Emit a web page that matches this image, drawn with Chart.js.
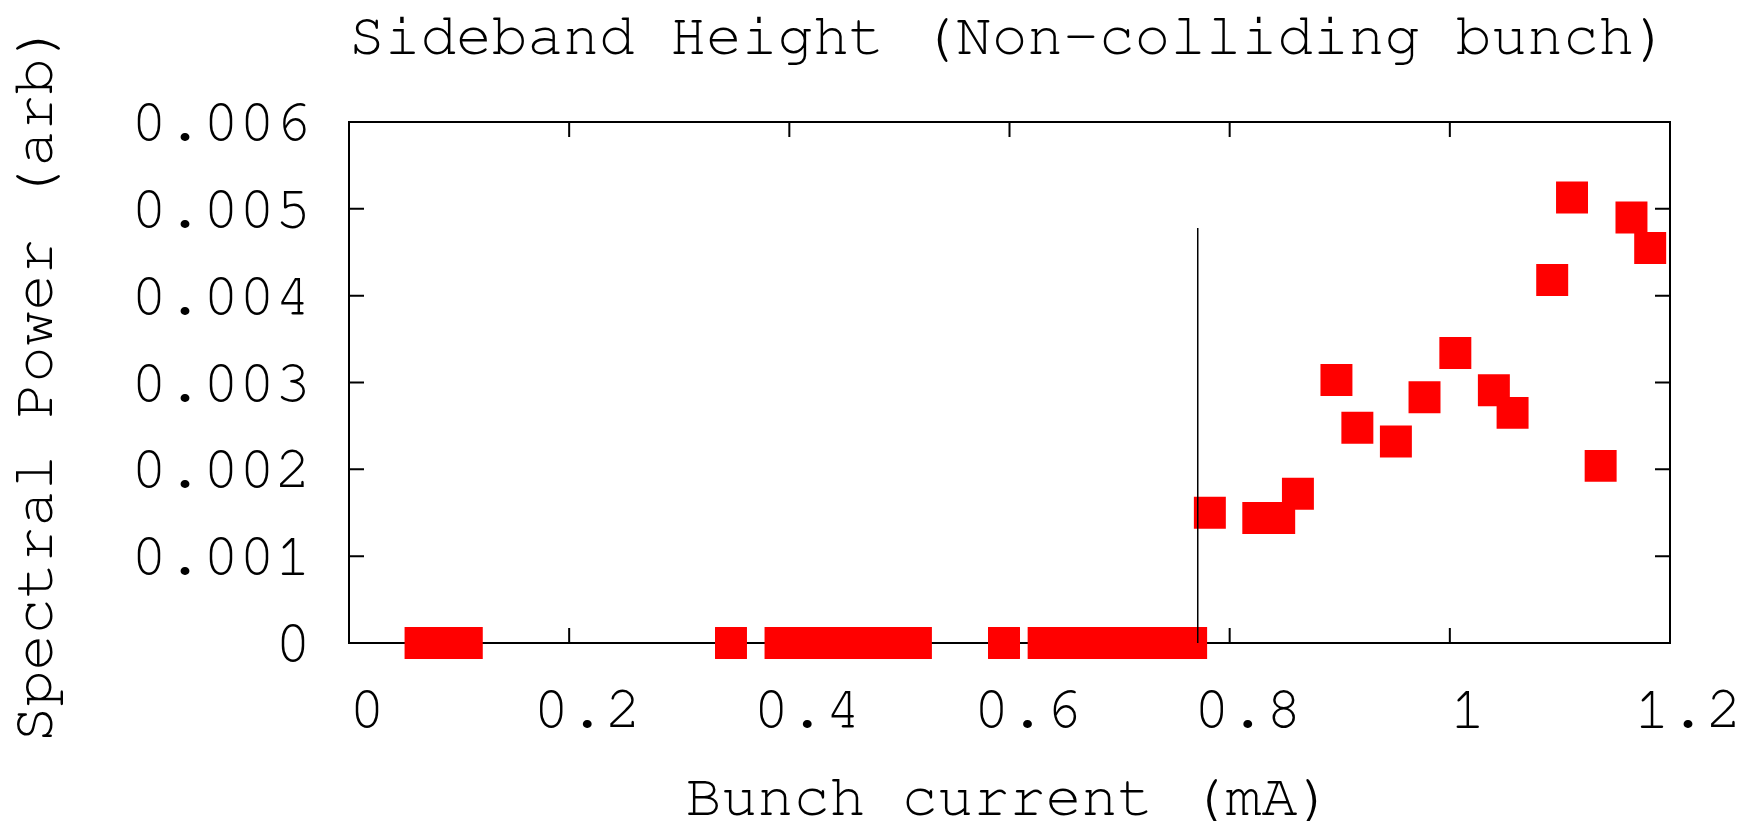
<!DOCTYPE html>
<html>
<head>
<meta charset="utf-8">
<script src="https://cdn.jsdelivr.net/npm/chart.js@4"></script>
<style>
  html, body { margin: 0; padding: 0; background: #fff; }
  #wrap { width: 1741px; height: 821px; }
</style>
</head>
<body>
<div id="wrap"><canvas id="sidebandChart" width="1741" height="821"></canvas></div>
<script>
// bunch current (mA) and sideband spectral power (arb)
const current = [
  0.065, 0.078, 0.092, 0.107,
  0.347,
  0.392, 0.407, 0.422, 0.437, 0.452, 0.467, 0.482, 0.498, 0.515,
  0.595,
  0.631, 0.646, 0.661, 0.676, 0.691, 0.706, 0.721, 0.736, 0.751, 0.765,
  0.782, 0.826, 0.845, 0.862, 0.897, 0.916, 0.951, 0.977,
  1.005, 1.040, 1.057, 1.093, 1.111, 1.137, 1.165, 1.182
];
const power = [
  0, 0, 0, 0,
  0,
  0, 0, 0, 0, 0, 0, 0, 0, 0,
  0,
  0, 0, 0, 0, 0, 0, 0, 0, 0, 0,
  0.00150, 0.00144, 0.00144, 0.00172, 0.00303, 0.00248, 0.00232, 0.00283,
  0.00334, 0.00291, 0.00265, 0.00418, 0.00513, 0.00204, 0.00490, 0.00455
];

// threshold marker
const thresholdX = [0.771, 0.771];
const thresholdY = [0, 0.00478];

const xTicks = [0, 0.2, 0.4, 0.6, 0.8, 1, 1.2];
const yTicks = [0, 0.001, 0.002, 0.003, 0.004, 0.005, 0.006];

const FONT = "'Nimbus Mono PS', 'Nimbus Mono L', FreeMono, Courier, 'Liberation Mono', monospace";

function fmt(v) {
  return String(Number(v.toFixed(4)));
}

// gnuplot style frame with inward ticks (drawn under the points)
const framePlugin = {
  id: 'frame',
  beforeDatasetsDraw(chart) {
    const { ctx, chartArea: a, scales } = chart;
    const len = 15;
    ctx.save();
    ctx.strokeStyle = '#000';
    ctx.lineWidth = 2;
    ctx.strokeRect(a.left, a.top, a.right - a.left, a.bottom - a.top);
    ctx.beginPath();
    xTicks.forEach(v => {
      const px = scales.x.getPixelForValue(v);
      ctx.moveTo(px, a.bottom); ctx.lineTo(px, a.bottom - len);
      ctx.moveTo(px, a.top); ctx.lineTo(px, a.top + len);
    });
    yTicks.forEach(v => {
      const py = scales.y.getPixelForValue(v);
      ctx.moveTo(a.left, py); ctx.lineTo(a.left + len, py);
      ctx.moveTo(a.right, py); ctx.lineTo(a.right - len, py);
    });
    ctx.stroke();
    ctx.restore();
  }
};

const points = current.map((x, i) => ({ x, y: power[i] }));
const threshold = thresholdX.map((x, i) => ({ x, y: thresholdY[i] }));

new Chart(document.getElementById('sidebandChart'), {
  type: 'scatter',
  data: {
    datasets: [
      {
        type: 'line',
        label: 'threshold',
        data: threshold,
        borderColor: '#000',
        borderWidth: 1.5,
        pointRadius: 0,
        fill: false,
        clip: false
      },
      {
        label: 'Sideband height',
        data: points,
        pointStyle: 'rect',
        pointRadius: 22.6,
        pointHoverRadius: 22.6,
        backgroundColor: '#ff0000',
        borderWidth: 0,
        clip: false
      }
    ]
  },
  options: {
    responsive: false,
    animation: false,
    events: [],
    layout: { padding: { left: 0, right: 71, top: 0, bottom: 0 } },
    plugins: {
      legend: { display: false },
      tooltip: { enabled: false },
      title: {
        display: true,
        fullSize: false,
        text: 'Sideband Height (Non-colliding bunch)',
        color: '#000',
        font: { family: FONT, size: 60, weight: 'normal', lineHeight: 1 },
        padding: { top: 6, bottom: 56 }
      }
    },
    scales: {
      x: {
        type: 'linear',
        min: 0,
        max: 1.2,
        afterBuildTicks: s => { s.ticks = xTicks.map(v => ({ value: v })); },
        grid: { display: false, drawTicks: false },
        border: { display: false },
        ticks: {
          color: '#000',
          padding: 36,
          labelOffset: 18,
          maxRotation: 0,
          autoSkip: false,
          font: { family: FONT, size: 60, lineHeight: 1 },
          callback: v => fmt(v)
        },
        title: {
          display: true,
          text: 'Bunch current (mA)',
          color: '#000',
          font: { family: FONT, size: 60, lineHeight: 0.8 },
          padding: { top: 0, bottom: 0 }
        },
        afterFit: s => { s.height = 178; s.paddingLeft = 0; s.paddingRight = 0; }
      },
      y: {
        type: 'linear',
        min: 0,
        max: 0.006,
        afterBuildTicks: s => { s.ticks = yTicks.map(v => ({ value: v })); },
        grid: { display: false, drawTicks: false },
        border: { display: false },
        ticks: {
          color: '#000',
          padding: 38,
          autoSkip: false,
          font: { family: FONT, size: 60, lineHeight: 1 },
          callback: v => fmt(v)
        },
        title: {
          display: true,
          text: 'Spectral Power (arb)',
          color: '#000',
          font: { family: FONT, size: 60, lineHeight: 1 },
          padding: { top: 4, bottom: 0 }
        },
        afterFit: s => { s.width = 349; s.paddingTop = 0; s.paddingBottom = 0; }
      }
    }
  },
  plugins: [framePlugin]
});
</script>
</body>
</html>
